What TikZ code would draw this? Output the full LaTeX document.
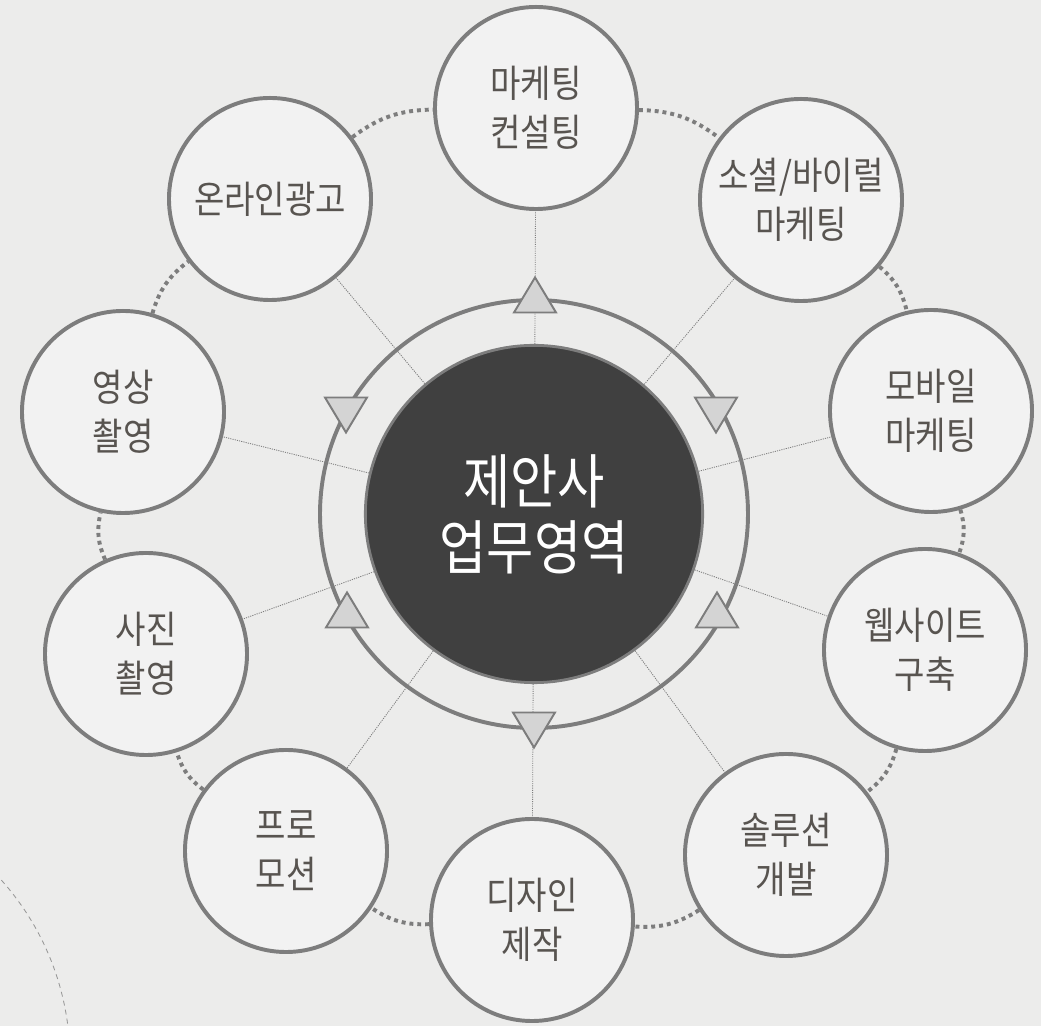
\documentclass[tikz,border=0pt]{standalone}
\usepackage{fontspec}
\newfontfamily\krfont[FakeStretch=0.87]{Noto Sans CJK KR}
\usetikzlibrary{backgrounds}
\definecolor{paper}{RGB}{236,236,235}
\definecolor{rim}{RGB}{125,125,125}
\definecolor{bubble}{RGB}{242,242,242}
\definecolor{ink}{RGB}{88,84,80}
\definecolor{coredark}{RGB}{64,64,64}
\definecolor{trifill}{RGB}{212,212,212}
\tikzset{area/.style={circle,draw=rim,line width=2.8pt,fill=bubble,minimum size=5.05cm,inner sep=0pt,align=center,text=ink,font=\krfont\fontsize{27}{35}\selectfont},
 core/.style={circle,draw=rim,line width=2pt,fill=coredark,minimum size=8.43cm,inner sep=0pt,align=center,text=white,font=\krfont\fontsize{42}{47}\selectfont},
 link/.style={rim,line width=2.8pt,dash pattern=on 2.8pt off 2.8pt},
 spoke/.style={rim,line width=0.6pt,dash pattern=on 0.8pt off 0.8pt},
 ring/.style={rim,line width=2.8pt},
 marker/.style={draw=rim,fill=trifill,line width=1.4pt,line join=miter},
 deco/.style={rim!80,line width=0.6pt,dash pattern=on 3.5pt off 3pt}}

\begin{document}
\begin{tikzpicture}[x=0.025cm,y=0.025cm]
\node[core] (core) at (534,512) {제안사\\업무영역};
\foreach \n/\x/\y/\lab in {mk/536/918/{마케팅\\컨설팅},sv/801/826/{소셜/바이럴\\마케팅},
 mb/931/615/{모바일\\마케팅},web/925/376/{웹사이트\\구축},sol/786/171/{솔루션\\개발},
 dsn/532/106/{디자인\\제작},pro/286/175/{프로\\모션},photo/146/372/{사진\\촬영},
 video/123/614/{영상\\촬영},ad/270/827/{온라인광고}}
 \node[area] (\n) at (\x,\y) {\lab};
\begin{scope}[on background layer]
\fill[paper] (0,0) rectangle (1041,1026);
\begin{scope}
\clip (0,0) rectangle (1041,1026);
\draw[deco] (-200,-34) circle[radius=270];
\end{scope}
\foreach \n in {mk,sv,mb,web,sol,dsn,pro,photo,video,ad}
 \draw[spoke] (core) -- (\n);
\foreach \a/\b in {mk/sv,sv/mb,mb/web,web/sol,sol/dsn,dsn/pro,pro/photo,photo/video,video/ad,ad/mk}
 \draw[link] (\a) to[bend left=18] (\b);
\draw[ring] (core.center) circle[radius=214];
% markers on the ring
\foreach \x/\b/\t in {535/713.5/748.5,346/628.5/593.5,716/628.5/593.5,347/398.5/433.5,717/398.5/433.5,534/313.5/278.5}
 \draw[marker] (\x-21,\b) -- (\x+21,\b) -- (\x,\t) -- cycle;
\end{scope}
\end{tikzpicture}
\end{document}
